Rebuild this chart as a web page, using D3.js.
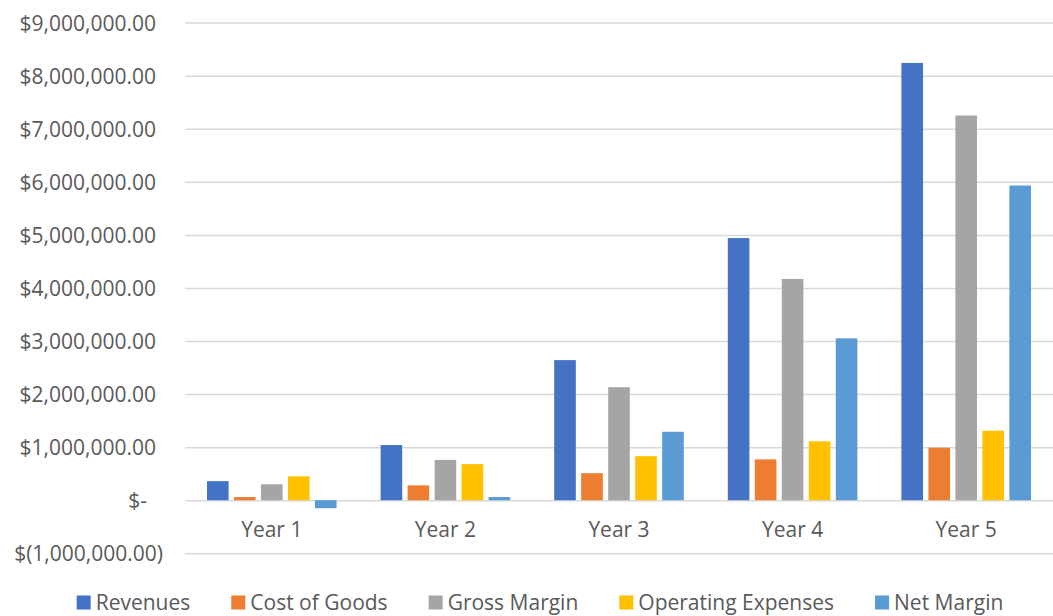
<!DOCTYPE html>
<html lang="en">
<head>
    <meta charset="UTF-8">
    <title>Five year projection</title>
    <script src="https://d3js.org/d3.v7.min.js"></script>
    <style>
        body { margin: 0; background: #fff; }
        text { font-family: "Open Sans", sans-serif; fill: #595959; }
    </style>
</head>
<body>
    <script>
        // data (values in dollars)
        var years = ['Year 1', 'Year 2', 'Year 3', 'Year 4', 'Year 5']
        var seriesNames = ['Revenues', 'Cost of Goods', 'Gross Margin', 'Operating Expenses', 'Net Margin']
        var revenues = [360000, 1040000, 2640000, 4940000, 8240000]
        var costOfGoods = [60000, 280000, 510000, 770000, 990000]
        var grossMargin = [300000, 760000, 2130000, 4170000, 7250000]
        var operatingExpenses = [450000, 680000, 830000, 1110000, 1310000]
        var netMargin = [-150000, 60000, 1290000, 3050000, 5930000]
        var yTicks = [-1000000, 0, 1000000, 2000000, 3000000, 4000000, 5000000, 6000000, 7000000, 8000000, 9000000]
        var yTickLabels = ['$(1,000,000.00)', '$-', '$1,000,000.00', '$2,000,000.00', '$3,000,000.00', '$4,000,000.00',
                           '$5,000,000.00', '$6,000,000.00', '$7,000,000.00', '$8,000,000.00', '$9,000,000.00']
        var colors = ['#4472C4', '#ED7D31', '#A5A5A5', '#FFC000', '#5B9BD5']

        var allSeries = [revenues, costOfGoods, grossMargin, operatingExpenses, netMargin]

        var w = 1053, h = 616
        var plotLeft = 185, plotRight = 1053, plotTop = 22.6, plotBottom = 553.3

        var svg = d3.select('body').append('svg')
                    .attr('width', w)
                    .attr('height', h)

        var yScale = d3.scaleLinear()
                        .domain([-1000000, 9000000])
                        .range([plotBottom, plotTop])

        var xScale = d3.scaleBand()
                        .domain(years)
                        .range([plotLeft, plotRight])

        var groupW = xScale.bandwidth() * 0.7465
        var x1 = d3.scaleBand()
                    .domain(seriesNames)
                    .range([-groupW / 2, groupW / 2])
                    .paddingInner(0.2)

        // gridlines + y labels
        var yAxis = d3.axisLeft(yScale)
                      .tickValues(yTicks)
                      .tickSize(-(plotRight - plotLeft))
                      .tickFormat((d, i) => yTickLabels[i])
        var gy = svg.append('g')
                    .attr('transform', 'translate(' + plotLeft + ',0)')
                    .call(yAxis)
        gy.select('.domain').remove()
        gy.selectAll('.tick line')
          .attr('stroke', '#d9d9d9')
          .attr('stroke-width', 1.5)
        gy.selectAll('.tick text')
          .attr('x', d => d < 0 ? -22 : (d === 0 ? -38 : -29))
          .attr('dy', '0.36em')
          .style('font-size', '21px')
          .style('font-family', '"Open Sans", sans-serif')
          .attr('fill', '#595959')

        // bars
        var rows = []
        years.forEach((yr, i) => {
            seriesNames.forEach((s, j) => {
                rows.push({ year: yr, series: s, value: allSeries[j][i], color: colors[j] })
            })
        })

        svg.append('g').selectAll('rect')
            .data(rows)
            .enter()
            .append('rect')
            .attr('x', d => xScale(d.year) + xScale.bandwidth() / 2 + x1(d.series))
            .attr('width', x1.bandwidth())
            .attr('y', d => yScale(Math.max(0, d.value)))
            .attr('height', d => Math.abs(yScale(0) - yScale(d.value)))
            .attr('fill', d => d.color)

        // category labels
        svg.append('g').selectAll('text')
            .data(years)
            .enter()
            .append('text')
            .attr('x', d => xScale(d) + xScale.bandwidth() / 2)
            .attr('y', 537)
            .attr('text-anchor', 'middle')
            .style('font-size', '21px')
            .text(d => d)

        // legend (nudged up a little so descenders stay inside the frame)
        var legend = svg.append('g')
        var items = legend.selectAll('g')
            .data(seriesNames)
            .enter()
            .append('g')
        items.append('rect')
            .attr('width', 14)
            .attr('height', 14)
            .attr('y', 595.5)
            .attr('fill', (d, i) => colors[i])
        items.append('text')
            .attr('x', 19)
            .attr('y', 609.5)
            .style('font-size', '21px')
            .text(d => d)

        var pos = 0
        var offsets = []
        items.each(function () {
            offsets.push(pos)
            pos += 19 + d3.select(this).select('text').node().getComputedTextLength() + 41
        })
        var total = pos - 41
        var start = 540 - total / 2
        items.attr('transform', (d, i) => 'translate(' + (start + offsets[i]) + ',0)')
    </script>
</body>
</html>
